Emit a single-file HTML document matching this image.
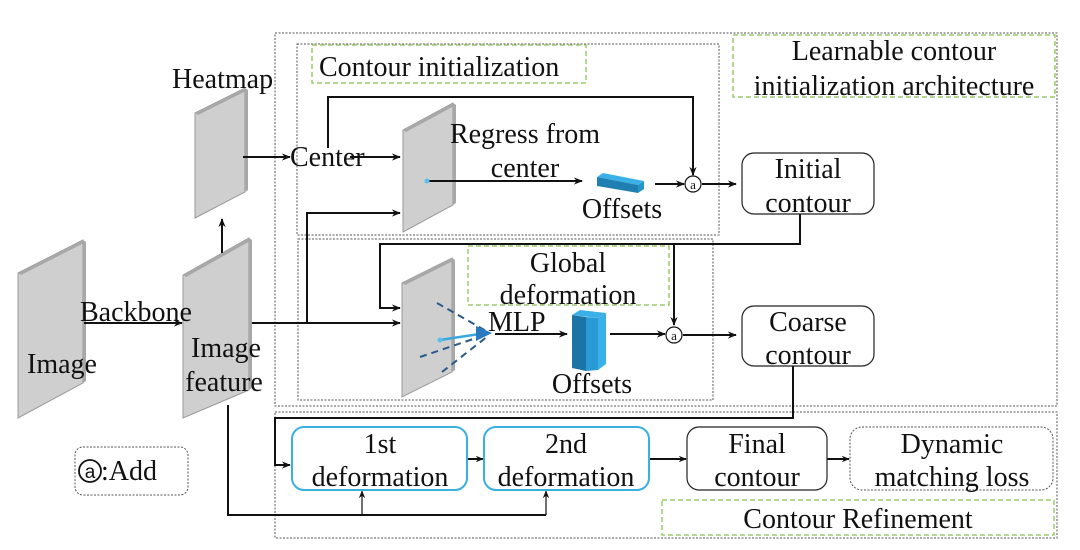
<!DOCTYPE html>
<html><head><meta charset="utf-8"><style>
html,body{margin:0;padding:0;background:#fff;width:1080px;height:550px;overflow:hidden}
text{font-family:"Liberation Serif",serif;fill:#111}
</style></head><body>
<svg width="1080" height="550" viewBox="0 0 1080 550" xmlns="http://www.w3.org/2000/svg">
<defs>
<marker id="ah" viewBox="0 0 10 10" refX="9" refY="5" markerWidth="10" markerHeight="9" orient="auto-start-reverse" markerUnits="userSpaceOnUse"><path d="M0,1 L10,5 L0,9 L3,5 z" fill="#111"/></marker>
<marker id="ahs" viewBox="0 0 10 10" refX="9" refY="5" markerWidth="8" markerHeight="8" orient="auto" markerUnits="userSpaceOnUse"><path d="M0,1 L10,5 L0,9 L3,5 z" fill="#111"/></marker>
</defs>
<g fill="none" stroke="#555" stroke-width="1" stroke-dasharray="2,1.5">
<rect x="275" y="33" width="782" height="373"/>
<rect x="297" y="44" width="422" height="191"/>
<rect x="298" y="239" width="415" height="161"/>
<rect x="275" y="412" width="782" height="126"/>
<rect x="75" y="447" width="113" height="48" rx="8"/>
<rect x="850" y="427" width="203" height="63" rx="12"/>
</g>
<g fill="none" stroke="#9ccc6a" stroke-width="1.5" stroke-dasharray="5,3">
<rect x="312" y="45" width="274" height="38"/>
<rect x="733" y="35" width="322" height="62"/>
<rect x="468" y="246" width="201" height="59"/>
<rect x="662" y="500" width="392" height="35"/>
</g>
<g fill="#cfcfcf" stroke="#9a9a9a" stroke-width="1">
<polygon points="18,273 83,240 83,383 18,418"/>
<polygon points="195,113 245,88 245,192 195,218"/>
<polygon points="183,275 249,238 249,390 183,418"/>
<polygon points="403,130 453,103 453,205 403,232"/>
<polygon points="402,283 452,258 452,372 402,397"/>
</g>
<g fill="#a8a8a8">
<polygon points="18,273 83,240 86,242 21,275"/>
<polygon points="83,240 86,242 86,381 83,383"/>
<polygon points="195,113 245,88 248,90 198,115"/>
<polygon points="245,88 248,90 248,190 245,192"/>
<polygon points="183,275 249,238 252,240 186,277"/>
<polygon points="249,238 252,240 252,388 249,390"/>
<polygon points="403,130 453,103 456,105 406,132"/>
<polygon points="453,103 456,105 456,203 453,205"/>
<polygon points="402,283 452,258 455,260 405,285"/>
<polygon points="452,258 455,260 455,370 452,372"/>
</g>
<g fill="none" stroke="#111" stroke-width="2">
<line x1="222" y1="253" x2="222" y2="219" marker-end="url(#ah)"/>
<line x1="243" y1="157" x2="290" y2="157" marker-end="url(#ah)"/>
<line x1="350" y1="157" x2="400" y2="157" marker-end="url(#ah)"/>
<polyline points="328,148 328,97 693,97 693,175" marker-end="url(#ah)"/>
<line x1="427" y1="181" x2="582" y2="181" marker-end="url(#ah)"/>
<line x1="655" y1="184" x2="684" y2="184" marker-end="url(#ah)"/>
<line x1="702" y1="184" x2="736" y2="184" marker-end="url(#ah)"/>
<line x1="84" y1="323" x2="182" y2="323" marker-end="url(#ah)"/>
<line x1="252" y1="323" x2="400" y2="323" marker-end="url(#ah)"/>
<polyline points="307,323 307,213 400,213" marker-end="url(#ah)"/>
<polyline points="800,214 800,244 380,244 380,308 400,308" marker-end="url(#ah)"/>
<line x1="674" y1="244" x2="674" y2="325" marker-end="url(#ah)"/>
<line x1="495" y1="334" x2="567" y2="334" marker-end="url(#ah)"/>
<line x1="610" y1="334" x2="665" y2="334" marker-end="url(#ah)"/>
<line x1="683" y1="335" x2="736" y2="335" marker-end="url(#ah)"/>
<polyline points="793,366 793,418 275,418 275,465 290,465" marker-end="url(#ah)"/>
<polyline points="228,405 228,515 546,515"/>
<line x1="362" y1="515" x2="362" y2="491" marker-end="url(#ahs)" stroke-width="1.2"/>
<line x1="546" y1="515" x2="546" y2="491" marker-end="url(#ahs)" stroke-width="1.2"/>
<line x1="467" y1="459" x2="483" y2="459" marker-end="url(#ahs)"/>
<line x1="649" y1="459" x2="686" y2="459" marker-end="url(#ahs)"/>
<line x1="827" y1="459" x2="849" y2="459" marker-end="url(#ahs)"/>
</g>
<g fill="#fff" stroke="#111" stroke-width="1.2">
<circle cx="693" cy="184" r="8"/>
<circle cx="674" cy="335" r="8"/>
</g>
<text x="693" y="189" font-size="13" text-anchor="middle">a</text>
<text x="674" y="340" font-size="13" text-anchor="middle">a</text>
<g stroke="#2a5a8a" stroke-width="2" stroke-dasharray="7,5" fill="none">
<line x1="437" y1="303" x2="488" y2="332"/>
<line x1="420" y1="357" x2="488" y2="334"/>
<line x1="442" y1="372" x2="488" y2="336"/>
</g>
<line x1="440" y1="340" x2="486" y2="333" stroke="#3aa8e0" stroke-width="2.5"/>
<polygon points="476,326 492,333 476,341" fill="#2a7ac0"/>
<circle cx="440" cy="340" r="2.5" fill="#5bc0ea"/>
<circle cx="427" cy="181" r="2.5" fill="#5bc0ea"/>
<polygon points="597,177 603,173 644,181 638,185" fill="#3ab0e8"/>
<polygon points="597,177 638,185 638,193 597,186" fill="#1e7fb0"/>
<polygon points="638,185 644,181 644,189 638,193" fill="#2596cc"/>
<polygon points="572,315 580,310 606,313 598,318" fill="#3ab0e8"/>
<polygon points="572,315 586,317 586,371 572,368" fill="#1a74a6"/>
<polygon points="586,317 598,318 598,370 586,371" fill="#2a9ad6"/>
<polygon points="598,318 606,313 606,364 598,370" fill="#3ab0e8"/>
<g fill="#fff" stroke="#222" stroke-width="1.2">
<rect x="742" y="153" width="132" height="61" rx="12"/>
<rect x="742" y="306" width="132" height="60" rx="12"/>
<rect x="687" y="427" width="140" height="63" rx="12"/>
</g>
<g fill="#fff" stroke="#3ab0e0" stroke-width="2">
<rect x="292" y="427" width="175" height="63" rx="12"/>
<rect x="484" y="427" width="165" height="63" rx="12"/>
</g>
<g font-size="28">
<text x="172" y="88">Heatmap</text>
<text x="319" y="76">Contour initialization</text>
<text x="894" y="60" text-anchor="middle">Learnable contour</text>
<text x="894" y="95" text-anchor="middle">initialization architecture</text>
<text x="290" y="166">Center</text>
<text x="525" y="143" text-anchor="middle">Regress from</text>
<text x="525" y="177" text-anchor="middle">center</text>
<text x="622" y="218" text-anchor="middle">Offsets</text>
<text x="808" y="178" text-anchor="middle">Initial</text>
<text x="808" y="212" text-anchor="middle">contour</text>
<text x="568" y="272" text-anchor="middle">Global</text>
<text x="568" y="304" text-anchor="middle">deformation</text>
<text x="488" y="331">MLP</text>
<text x="592" y="393" text-anchor="middle">Offsets</text>
<text x="808" y="331" text-anchor="middle">Coarse</text>
<text x="808" y="364" text-anchor="middle">contour</text>
<text x="80" y="321">Backbone</text>
<text x="27" y="373">Image</text>
<text x="226" y="357" text-anchor="middle">Image</text>
<text x="224" y="391" text-anchor="middle">feature</text>
<text x="380" y="453" text-anchor="middle">1st</text>
<text x="380" y="486" text-anchor="middle">deformation</text>
<text x="566" y="453" text-anchor="middle">2nd</text>
<text x="566" y="486" text-anchor="middle">deformation</text>
<text x="757" y="453" text-anchor="middle">Final</text>
<text x="757" y="486" text-anchor="middle">contour</text>
<text x="952" y="453" text-anchor="middle">Dynamic</text>
<text x="952" y="486" text-anchor="middle">matching loss</text>
<text x="858" y="528" text-anchor="middle">Contour Refinement</text>
<text x="101" y="480">:Add</text>
</g>
<circle cx="90" cy="471" r="11" fill="none" stroke="#111" stroke-width="1.8"/>
<text x="90" y="478" font-size="19" text-anchor="middle" style="font-family:'Liberation Sans',sans-serif">a</text>
</svg>
</body></html>
